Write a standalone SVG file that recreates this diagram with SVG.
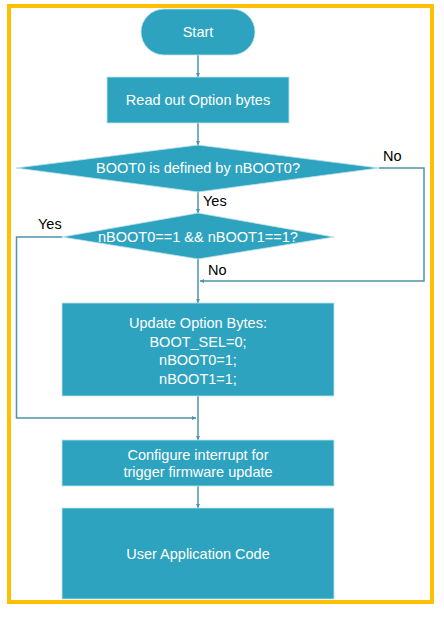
<svg xmlns="http://www.w3.org/2000/svg" width="444" height="618" viewBox="0 0 444 618">
<style>
.n{fill:#2ea3c0;stroke:#bfe3ec;stroke-width:0.8}
.t{font-family:"Liberation Sans",Arial,sans-serif;font-size:14.5px;fill:#ffffff;text-anchor:middle}
.l{font-family:"Liberation Sans",Arial,sans-serif;font-size:14.5px;fill:#000000}
.c{fill:none;stroke:#4d95a8;stroke-width:1.5}
</style>
<defs>
<marker id="a" markerWidth="4" markerHeight="4" refX="4" refY="2" orient="auto" markerUnits="userSpaceOnUse">
<path d="M0,0 L4,2 L0,4 z" fill="#4d95a8"/>
</marker>
</defs>
<rect x="0" y="0" width="444" height="618" fill="#ffffff"/>
<rect x="9" y="6" width="423" height="596" fill="none" stroke="#ffc000" stroke-width="4"/>
<g id="connectors">
<line class="c" x1="198" y1="55" x2="198" y2="77" marker-end="url(#a)"/>
<line class="c" x1="198" y1="123" x2="198" y2="145" marker-end="url(#a)"/>
<line class="c" x1="198" y1="192" x2="198" y2="213" marker-end="url(#a)"/>
<polyline class="c" points="379,168 424,168 424,281 200,281" marker-end="url(#a)"/>
<line class="c" x1="198" y1="259" x2="198" y2="303" marker-end="url(#a)"/>
<polyline class="c" points="62,237 16.5,237 16.5,418 196,418" marker-end="url(#a)"/>
<line class="c" x1="198" y1="396" x2="198" y2="440" marker-end="url(#a)"/>
<line class="c" x1="198" y1="486" x2="198" y2="508" marker-end="url(#a)"/>
<text class="l" x="203" y="206">Yes</text>
<text class="l" x="383" y="161">No</text>
<text class="l" x="208" y="275">No</text>
<text class="l" x="38" y="229">Yes</text>
</g>
<g id="start">
<rect class="n" x="141" y="9" width="114" height="46" rx="23"/>
<text class="t" x="198" y="37">Start</text>
</g>
<g id="read">
<rect class="n" x="107" y="77" width="182" height="46"/>
<text class="t" x="198" y="105">Read out Option bytes</text>
</g>
<g id="decision1">
<polygon class="n" points="198,145 379,168 198,192 16,168"/>
<text class="t" x="198" y="173">BOOT0 is defined by nBOOT0?</text>
</g>
<g id="decision2">
<polygon class="n" points="198,213 334,237 198,259 62,237"/>
<text class="t" x="198" y="241.5">nBOOT0==1 &amp;&amp; nBOOT1==1?</text>
</g>
<g id="update">
<rect class="n" x="62" y="303" width="272" height="93"/>
<text class="t" x="198" y="328">Update Option Bytes:</text>
<text class="t" x="198" y="346.5">BOOT_SEL=0;</text>
<text class="t" x="198" y="365">nBOOT0=1;</text>
<text class="t" x="198" y="383.5">nBOOT1=1;</text>
</g>
<g id="configure">
<rect class="n" x="62" y="440" width="272" height="46"/>
<text class="t" x="198" y="460">Configure interrupt for</text>
<text class="t" x="198" y="477">trigger firmware update</text>
</g>
<g id="user">
<rect class="n" x="62" y="508" width="272" height="91"/>
<text class="t" x="198" y="558.5">User Application Code</text>
</g>
</svg>
